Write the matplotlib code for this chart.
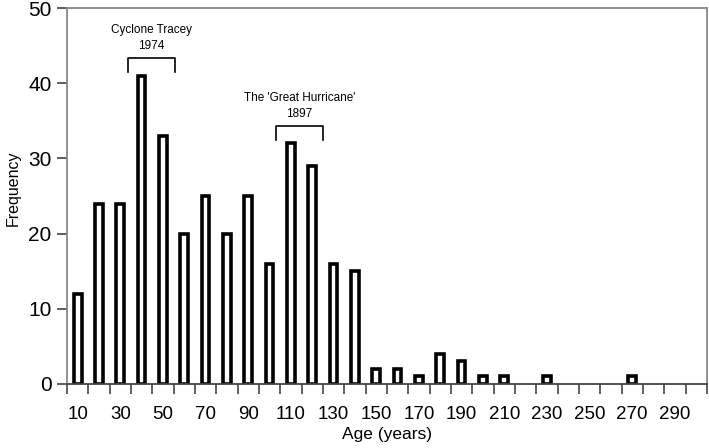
import numpy as np
import matplotlib
matplotlib.use("Agg")
import matplotlib.pyplot as plt

plt.rcParams['font.family'] = ['Liberation Sans', 'DejaVu Sans']

# Age classes (bin centres, years) and tree counts
ages = [10, 20, 30, 40, 50, 60, 70, 80, 90, 100,
        110, 120, 130, 140, 150, 160, 170, 180, 190, 200,
        210, 220, 230, 240, 250, 260, 270, 280, 290, 300]
freq = [12, 24, 24, 41, 33, 20, 25, 20, 25, 16,
        32, 29, 16, 15, 2, 2, 1, 4, 3, 1,
        1, 0, 1, 0, 0, 0, 1, 0, 0, 0]
tick_labels = [10, 30, 50, 70, 90, 110, 130, 150, 170, 190, 210, 230, 250, 270, 290]

events = [("Cyclone Tracey\n1974", 33.5, 55.5, 43.4),
          ("The 'Great Hurricane'\n1897", 103, 125, 34.3)]

fig = plt.figure(figsize=(7.09, 4.48), dpi=100)
ax = fig.add_axes([0.0945, 0.143, 0.9025, 0.839])

# empty classes get no bar outline
x = np.array(ages)
y = np.array(freq)
nz = y > 0
ax.bar(x[nz], y[nz], width=3.6, color="white", edgecolor="black", linewidth=2.6)

ax.set_xlim(5, 305)
ax.set_ylim(0, 50)

# tick marks at bin edges, labels under every other bar
ax.set_xticks(np.arange(5, 306, 10))
ax.set_xticklabels([])
ax.set_xticks(tick_labels, minor=True)
ax.set_xticklabels([str(t) for t in tick_labels], minor=True, fontsize=13.5)
ax.tick_params(axis="x", which="major", length=7, width=1.2, color="#444444", direction="out")
ax.tick_params(axis="x", which="minor", length=0, pad=16)
ax.set_yticks([0, 10, 20, 30, 40, 50])
ax.tick_params(axis="y", length=7, width=1.2, color="#444444", labelsize=15, pad=4)

for s in ax.spines.values():
    s.set_color("#888888")
    s.set_linewidth(1.3)
ax.spines["bottom"].set_color("#444444")

ax.set_xlabel("Age (years)", fontsize=12.5, labelpad=3)
ax.set_ylabel("Frequency", fontsize=11.5)
ax.yaxis.set_label_coords(-0.072, 0.52)

for label, x0, x1, yb in events:
    ax.plot([x0, x0, x1, x1], [yb - 1.9, yb, yb, yb - 1.9], color="black", lw=1.2)
    ax.text((x0 + x1) / 2, yb + 0.8, label, ha="center", va="bottom",
            fontsize=8.5, linespacing=1.45)

fig.savefig("out.png", dpi=100)
